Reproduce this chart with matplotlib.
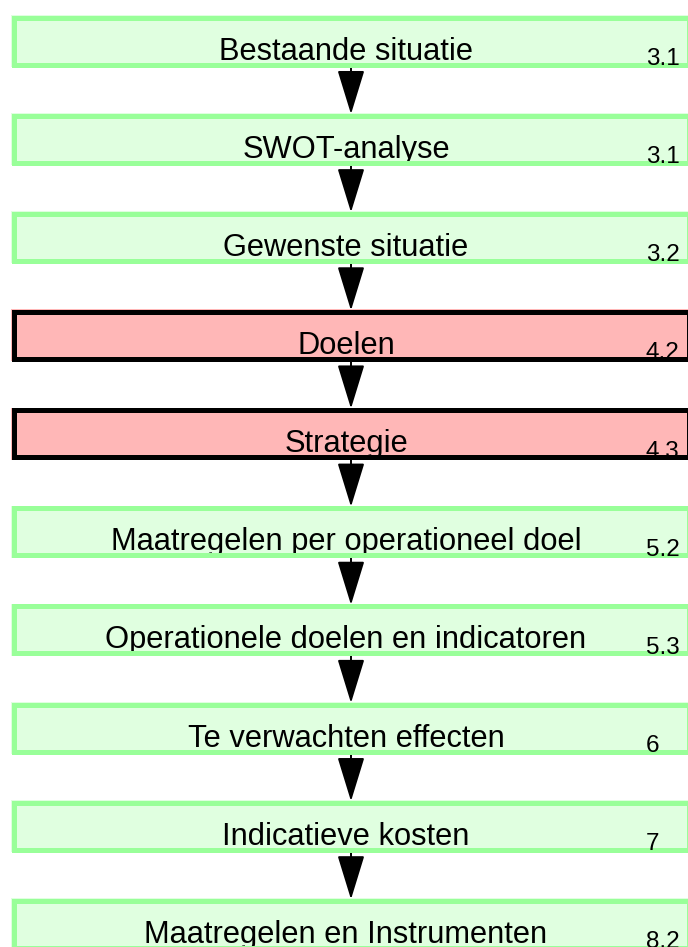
import matplotlib.pyplot as plt
from matplotlib.patches import Rectangle, FancyArrowPatch

# steps of the plan, top to bottom
labels = ['Bestaande situatie', 'SWOT-analyse', 'Gewenste situatie', 'Doelen',
          'Strategie', 'Maatregelen per operationeel doel',
          'Operationele doelen en indicatoren', 'Te verwachten effecten',
          'Indicatieve kosten', 'Maatregelen en Instrumenten']
chapters = ['3.1', '3.1', '3.2', '4.2', '4.3', '5.2', '5.3', '6', '7', '8.2']
highlight = [False, False, False, True, True, False, False, False, False, False]

W, H = 688, 947
fig = plt.figure(figsize=(W / 100, H / 100), dpi=100)
ax = fig.add_axes([0, 0, 1, 1])
ax.set_xlim(0, W)
ax.set_ylim(H, 0)
ax.axis('off')

# layout in pixels
top0, step, box_h = 15, 98.15, 52
left, right = 11, 691
bw = 5  # border width px
lw = bw * 72 / 100
tx = 346   # centre of the labels
ax_x = 351  # arrow position

green_fill, green_edge = '#e0ffe0', '#99ff99'
red_fill, red_edge = '#ffb7b7', '#000000'

for i, (lab, ch, hl) in enumerate(zip(labels, chapters, highlight)):
    top = top0 + i * step
    fill = red_fill if hl else green_fill
    edge = red_edge if hl else green_edge
    ax.add_patch(Rectangle((left, top), right - left, box_h,
                           facecolor=fill, edgecolor='none', zorder=1))
    ax.add_patch(Rectangle((left + bw / 2, top + bw / 2), right - left - bw,
                           box_h - bw, facecolor='none', edgecolor=edge,
                           linewidth=lw, joinstyle='miter', zorder=3))
    # label sits low in the box, descenders hidden by the border
    ax.text(tx, top + 44.5, lab, ha='center', va='baseline', fontsize=22.2,
            family='Liberation Sans', zorder=2)
    ax.text(646, top + 50, ch, ha='left', va='baseline', fontsize=17.5,
            family='Liberation Sans', zorder=2 if hl else 4)

    if i < len(labels) - 1:
        nxt = top0 + (i + 1) * step
        ax.add_patch(FancyArrowPatch((ax_x, top + box_h), (ax_x, nxt + 1),
                                     arrowstyle='-|>,head_length=2.8,head_width=0.86',
                                     mutation_scale=10, color='black',
                                     linewidth=1.4, shrinkA=0, shrinkB=0,
                                     zorder=0.5))

fig.savefig('out.png', dpi=100)
